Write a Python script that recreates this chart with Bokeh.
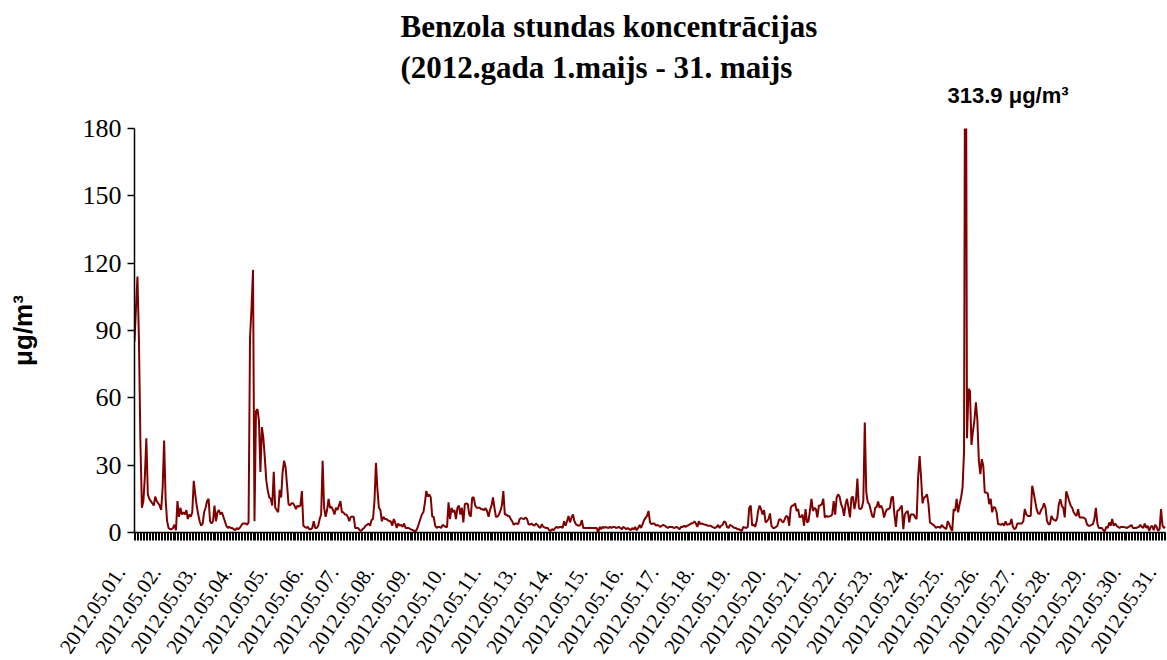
import math
from bokeh.plotting import figure
from bokeh.layouts import column
from bokeh.models import Range1d, FixedTicker, ColumnDataSource
from bokeh.core.properties import value
from bokeh.embed import file_html
from bokeh.resources import INLINE

# ---- data: hourly benzene concentrations (µg/m3), May 2012 (no data for 12 May) ----
day_names = ["01", "02", "03", "04", "05", "06", "07", "08", "09", "10", "11",
             "13", "14", "15", "16", "17", "18", "19", "20", "21", "22", "23",
             "24", "25", "26", "27", "28", "29", "30", "31"]
tick_labels = ["2012.05.%s." % d for d in day_names]

may01 = [85, 100, 114, 86, 40, 11, 14, 25, 42, 17, 15, 14, 13, 12, 16, 14, 13, 12, 10, 20, 41, 15, 5, 2]
may02 = [1.5, 1.5, 2, 3.5, 1, 14, 7, 11, 8, 9, 8, 10, 6, 8, 7, 9, 23, 17, 12, 8, 5, 3, 4, 9]
may03 = [11, 14, 15, 5, 4, 5, 12, 5, 9, 10, 8, 9, 7, 5, 3, 2, 2.5, 2, 2, 1.5, 1, 2, 1.5, 2]
may04 = [3, 4, 4, 4, 3.5, 4.5, 87, 100, 117, 5, 54, 55, 50, 27, 47, 42, 33, 23, 18.5, 15.6, 15, 12, 27, 11]
may05 = [10, 9, 19, 15.6, 27, 32, 29, 21, 12.6, 12, 13, 13, 12, 10.4, 12, 11.5, 12, 18.5, 3, 2.5, 2, 2.5, 1.5, 1.5]
may06 = [2, 5, 2, 2, 3, 6, 8, 32, 11, 7, 10, 15, 11, 11.4, 10, 8, 11, 10, 12, 14, 9, 9, 8, 8]
may07 = [7, 5, 7, 7, 7, 2, 2, 2, 1, 0.7, 1.5, 2, 3, 3.4, 4, 3, 5.5, 6, 14, 31, 19, 11, 10, 5]
may08 = [7, 6, 6, 5.5, 5, 5, 3, 6, 4.5, 2, 4, 3, 3.4, 2.5, 4, 2, 2, 2, 1.6, 1.3, 1, 0.7, 0.7, 2]
may09 = [4, 6, 8, 9, 13, 18.5, 16, 17, 15.6, 7, 7, 3, 2, 2.5, 2.5, 2, 3.4, 3, 2.5, 2.5, 13.4, 6, 11, 9]
may10 = [10, 6, 11, 12, 8, 11, 4.5, 12.6, 13, 12.6, 8, 7, 15.6, 15.6, 12, 11, 11, 11, 10.4, 10.4, 10, 10.8, 9.6, 7]
may11 = [10, 12, 15.6, 11, 7, 7, 8, 9.6, 12, 18.5, 8, 8, 7.4, 7.4, 6, 5, 3.4, 4, 4, 3.7, 6, 6.4, 6.2, 6]
may13 = [6.7, 6, 3.7, 3.5, 4, 3.4, 3, 4, 3.4, 2.5, 2, 3.7, 2.5, 2.2, 2, 2, 1, 0.7, 1.5, 1, 2, 2.5, 2, 2.5]
may14 = [2.5, 2, 5, 3, 5, 7.4, 4.5, 6.7, 8, 5, 3.7, 3.2, 3, 3.4, 5.5, 2, 2, 2, 2, 2, 2, 2, 2, 2]
may15 = [2, 0, 2.5, 1.5, 2.5, 2, 2.5, 2.2, 2, 2.5, 2, 2.5, 2.5, 2, 2.2, 2.5, 2, 1.5, 2.5, 2, 1.5, 2, 1.5, 1]
may16 = [2, 1.3, 2.5, 1, 2, 3.4, 2, 3.7, 5.5, 6.5, 7.4, 9.6, 4.5, 3.7, 4, 4, 3, 3.4, 3, 2.5, 3, 3.4, 3, 2.5]
may17 = [2, 2.5, 2.5, 2.5, 2, 2.2, 2.5, 2, 1.5, 2.5, 2.5, 3, 2.5, 3, 3.2, 3.7, 4, 4.2, 5, 4, 2.5, 5, 3.7, 4]
may18 = [3.7, 3.4, 3.4, 3, 3, 3, 2.5, 2.2, 2, 2.5, 3.4, 2, 3, 3.4, 5, 4.5, 2.5, 2, 3.4, 3, 2.5, 2, 2, 1.5]
may19 = [1.5, 1, 0.7, 2.5, 2.2, 2, 2.5, 11, 12, 3, 3.7, 2.5, 5, 9.6, 12, 10.4, 8, 10, 4.5, 5, 6, 8.5, 3, 2]
may20 = [2, 2.5, 3, 5.5, 6, 5, 4.5, 6, 7.4, 7, 3, 11, 12, 12, 13, 9.6, 10.4, 6.7, 7, 8, 3, 10.4, 4.5, 5]
may21 = [10, 15, 9.6, 11, 10.4, 6.7, 12, 12, 12.6, 15, 6.7, 7.4, 7, 7.2, 7.4, 8, 14, 8, 15.6, 17, 16, 12.6, 11, 7.4]
may22 = [12.6, 15, 11, 6.7, 15.6, 16, 10.4, 14, 24, 11, 10.4, 11, 14, 49, 18, 13.4, 12.6, 10, 7.4, 6.7, 11, 11.4, 13.8, 11]
may23 = [12, 10.4, 6.7, 9, 10.4, 10.4, 11, 15.6, 16, 8, 2.5, 9.6, 10, 11, 12, 1.5, 8, 9, 9.6, 4.5, 8, 8, 8, 6.7]
may24 = [6, 24.5, 34, 24.5, 13, 15.6, 16, 17, 12.6, 4.5, 4, 3.5, 3, 2, 2.5, 2.5, 2, 3.4, 2.5, 2, 1.5, 5, 3.7, 2]
may25 = [0.7, 10.4, 9.6, 15, 9, 12.6, 15.6, 20, 36, 313.9, 42, 64, 63, 39, 45, 50, 58, 50, 32, 26, 32.7, 29.7, 17.8, 17.8]
may26 = [17.4, 12.6, 15, 9, 11.4, 11, 9, 3.7, 3.7, 3.4, 4, 3, 5, 3.4, 3.7, 3.7, 6, 2.5, 1.5, 2, 4, 4, 4, 4]
may27 = [5, 10.4, 8.2, 7.4, 7.4, 7.4, 20.8, 17.8, 14, 10.4, 8.5, 8.2, 10, 11, 13, 11, 5.2, 3.7, 3.7, 7.4, 6, 5.5, 5.2, 6.7]
may28 = [12.6, 14.8, 11.9, 11, 6.7, 18.3, 16.3, 14, 12, 11, 9, 8, 7.4, 10.4, 6.7, 6.7, 6.7, 6.5, 6, 3.7, 3, 3, 3.4, 3.7]
may29 = [6, 11, 4, 2, 2, 2, 1, 0.5, 2.5, 2, 4.5, 3, 6, 3, 4, 3, 2.5, 2, 2.5, 2.5, 2.5, 2.2, 2, 2.5]
may30 = [2.8, 3.4, 2, 2, 2, 2.2, 2.5, 3.4, 2.5, 2, 4, 2, 3, 0.7, 2.5, 3, 1, 3.4, 2.5, 0.7, 1.5, 10.4, 3, 2]
may31 = [2.5]

days = [may01, may02, may03, may04, may05, may06, may07, may08, may09, may10, may11,
        may13, may14, may15, may16, may17, may18, may19, may20, may21, may22, may23,
        may24, may25, may26, may27, may28, may29, may30]
values = [v for d in days for v in d] + may31
hours = list(range(len(values)))
peak_value = max(values)

y_ticks = [0, 30, 60, 90, 120, 150, 180]

# ---- layout constants (pixels) ----
W = 1167
TOP_H = 114           # title band
LEFT, RIGHT = 134, 2  # main frame borders
FRAME_H = 404
MAIN_TOP, MAIN_BOTTOM = 14, 16
MAIN_H = MAIN_TOP + FRAME_H + MAIN_BOTTOM
BOT_H = 660 - TOP_H - MAIN_H
n_last = len(values) - 1
px_per_hour = (W - LEFT - RIGHT) / n_last
label_shift = 9.5     # rotated date labels end a little left of their day's first hour

# baselines of the title texts, measured from the top of the title band
TITLE1_BASE, TITLE2_BASE, PEAK_BASE = 25.5, 67, 95


def bare(fig):
    fig.title = None
    fig.outline_line_color = None
    fig.xgrid.visible = False
    fig.ygrid.visible = False
    fig.background_fill_color = "white"
    fig.border_fill_color = "white"


# ---- title band ----
top = figure(width=W, height=TOP_H, output_backend="svg", toolbar_location=None,
             x_range=Range1d(0, W), y_range=Range1d(0, TOP_H),
             x_axis_type=None, y_axis_type=None, min_border=0, frame_align=False)
bare(top)
top.text(x=[400, 400], y=[TOP_H - TITLE1_BASE, TOP_H - TITLE2_BASE],
         text=["Benzola stundas koncentrācijas", "(2012.gada 1.maijs - 31. maijs"],
         text_font=value("Liberation Serif"), text_font_style="bold", text_font_size="31px",
         text_color="black", text_align="left", text_baseline="alphabetic")
top.text(x=[947], y=[TOP_H - PEAK_BASE], text=["%.1f μg/m³" % peak_value],
         text_font=value("Liberation Sans"), text_font_style="bold", text_font_size="22px",
         text_color="black", text_align="left", text_baseline="alphabetic")

# ---- main chart ----
p = figure(width=W, height=MAIN_H, output_backend="svg", toolbar_location=None,
           x_range=Range1d(0, n_last), y_range=Range1d(0, 180),
           min_border_left=LEFT, min_border_right=RIGHT,
           min_border_top=MAIN_TOP, min_border_bottom=MAIN_BOTTOM, frame_align=False)
bare(p)
p.line(hours, values, line_color="#800000", line_width=2)

ya = p.yaxis[0]
ya.ticker = FixedTicker(ticks=y_ticks)
ya.major_tick_out = 7
ya.major_tick_in = 0
ya.minor_tick_out = 0
ya.minor_tick_in = 0
ya.axis_line_color = "black"
ya.axis_line_width = 1.5
ya.major_tick_line_width = 1.5
ya.major_label_text_font = "Liberation Serif"
ya.major_label_text_font_size = "26px"
ya.major_label_text_color = "black"
ya.major_label_standoff = 6
ya.axis_label = "μg/m³"
ya.axis_label_text_font = "Liberation Sans"
ya.axis_label_text_font_style = "bold"
ya.axis_label_text_font_size = "26px"
ya.axis_label_text_color = "black"
ya.axis_label_standoff = 42

xa = p.xaxis[0]
xa.ticker = FixedTicker(ticks=[], minor_ticks=hours)   # one tick mark per hour
xa.major_tick_out = 0
xa.major_tick_in = 0
xa.major_label_standoff = 0
xa.minor_tick_out = 8
xa.minor_tick_in = 0
xa.minor_tick_line_color = "black"
xa.axis_line_color = "black"
xa.axis_line_width = 1.5

# ---- date labels band (same hour scale as the main chart) ----
bot = figure(width=W, height=BOT_H, output_backend="svg", toolbar_location=None,
             x_range=Range1d(-LEFT / px_per_hour, n_last + RIGHT / px_per_hour),
             y_range=Range1d(0, BOT_H), x_axis_type=None, y_axis_type=None,
             min_border=0, frame_align=False)
bare(bot)
label_src = ColumnDataSource(dict(
    x=[24 * k - label_shift for k in range(len(tick_labels))],
    y=[BOT_H - (568 - (TOP_H + MAIN_H))] * len(tick_labels),
    text=tick_labels))
bot.text(x="x", y="y", text="text", source=label_src, angle=math.radians(56),
         text_font=value("Liberation Serif"), text_font_size="21px", text_color="black",
         text_align="right", text_baseline="alphabetic")

layout = column(top, p, bot, spacing=0)
open("out.html", "w").write(file_html(layout, INLINE))
